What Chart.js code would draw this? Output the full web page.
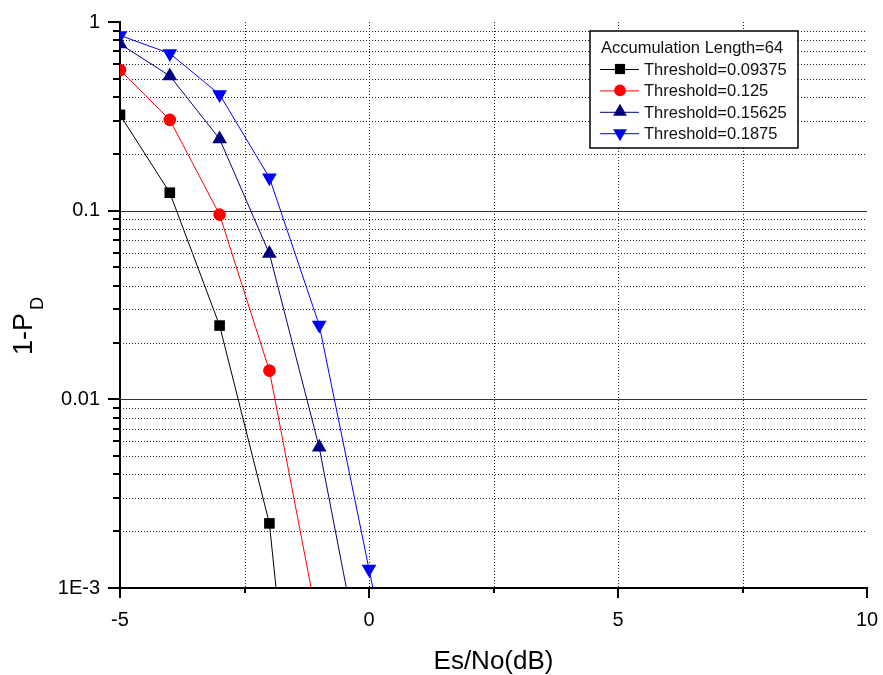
<!DOCTYPE html>
<html>
<head>
<meta charset="utf-8">
<script src="https://cdn.jsdelivr.net/npm/chart.js@4/dist/chart.umd.min.js"></script>
<style>
  body { margin: 0; background: #fff; }
  canvas { display: block; }
</style>
</head>
<body>
<canvas id="pdChart" width="883" height="675"></canvas>
<script>
// Es/No (dB) sample points
const esNo = [-5, -4, -3, -2, -1, 0, 1];

// 1-PD for each threshold (last points fall below 1E-3)
const thr09375 = [0.322, 0.1245, 0.0246, 0.0022, 0.000006];
const thr125 = [0.557, 0.303, 0.0953, 0.0142, 0.0006];
const thr15625 = [0.765, 0.518, 0.240, 0.0592, 0.00557, 0.00024];
const thr1875 = [0.849, 0.681, 0.413, 0.1495, 0.0248, 0.00126, 0.000065];

const seriesNames = [
  "Threshold=0.09375",
  "Threshold=0.125",
  "Threshold=0.15625",
  "Threshold=0.1875",
];
const legendTitle = "Accumulation Length=64";

// axis ticks
const xTicks = [-5, -2.5, 0, 2.5, 5, 7.5, 10];
const xTickLabels = ["-5", "", "0", "", "5", "", "10"];
const yMajorTicks = [0.001, 0.01, 0.1, 1];
const yTickLabels = ["1E-3", "0.01", "0.1", "1"];

const FONT = "'Liberation Sans', Arial, sans-serif";

// look & feel for each series
const styles = [
  { color: "#000000", point: "rect", radius: 7.5, rotation: 0 },
  { color: "#ff0000", point: "circle", radius: 6.3, rotation: 0 },
  { color: "#000080", point: "triangle", radius: 8.5, rotation: 0 },
  { color: "#0000ff", point: "triangle", radius: 8.5, rotation: 180 },
];

function toPoints(values) {
  return values.map((v, i) => ({ x: esNo[i], y: v }));
}

function isMajorY(v) {
  return yMajorTicks.findIndex((m) => Math.abs(v - m) / m < 1e-6);
}

// all log ticks 1..9 x 10^k
function buildYTicks() {
  const ticks = [];
  for (let k = -3; k <= 0; k++) {
    for (let m = 1; m <= 9; m++) {
      const v = m * Math.pow(10, k);
      if (v <= 1.0000001) ticks.push({ value: v });
    }
  }
  return ticks;
}

// draw a marker like the plot ones (legend only)
function drawMarker(ctx, style, x, y, r) {
  ctx.save();
  ctx.fillStyle = style.color;
  ctx.beginPath();
  if (style.point === "rect") {
    const s = r / Math.SQRT2;
    ctx.rect(x - s, y - s, 2 * s, 2 * s);
  } else if (style.point === "circle") {
    ctx.arc(x, y, r, 0, Math.PI * 2);
  } else {
    const rot = (style.rotation * Math.PI) / 180;
    for (let i = 0; i < 3; i++) {
      const a = rot + (i * 2 * Math.PI) / 3;
      const px = x + Math.sin(a) * r;
      const py = y - Math.cos(a) * r;
      if (i === 0) ctx.moveTo(px, py);
      else ctx.lineTo(px, py);
    }
    ctx.closePath();
  }
  ctx.fill();
  ctx.restore();
}

// grid lines drawn under the data
const gridPlugin = {
  id: "originGrid",
  beforeDatasetsDraw(chart) {
    const { ctx, chartArea: a } = chart;
    const xs = chart.scales.x;
    const ys = chart.scales.y;
    ctx.save();
    ctx.lineWidth = 1;

    // vertical dotted lines
    ctx.strokeStyle = "#222";
    ctx.setLineDash([1, 2]);
    xTicks.forEach((v) => {
      if (v === xs.min || v === xs.max) return;
      const px = Math.round(xs.getPixelForValue(v)) + 0.5;
      ctx.beginPath();
      ctx.moveTo(px, a.top);
      ctx.lineTo(px, a.bottom);
      ctx.stroke();
    });

    // horizontal lines
    ys.ticks.forEach((t) => {
      const v = t.value;
      if (v >= 0.9999 || v <= 0.0010001) return;
      const py = Math.round(ys.getPixelForValue(v)) + 0.5;
      if (isMajorY(v) >= 0) {
        ctx.setLineDash([]);
        ctx.strokeStyle = "#333";
      } else {
        ctx.setLineDash([1, 2]);
        ctx.strokeStyle = "#222";
      }
      ctx.beginPath();
      ctx.moveTo(a.left, py);
      ctx.lineTo(a.right, py);
      ctx.stroke();
    });
    ctx.restore();
  },
  afterDraw(chart) {
    const { ctx, chartArea: a } = chart;
    const xs = chart.scales.x;
    const ys = chart.scales.y;
    ctx.save();
    ctx.strokeStyle = "#000";
    ctx.lineWidth = 2;
    ctx.setLineDash([]);

    // y ticks, pointing out
    ys.ticks.forEach((t) => {
      const py = Math.round(ys.getPixelForValue(t.value));
      const len = isMajorY(t.value) >= 0 ? 12 : 7;
      ctx.beginPath();
      ctx.moveTo(a.left, py);
      ctx.lineTo(a.left - len, py);
      ctx.stroke();
    });

    // x ticks, pointing down
    xTicks.forEach((v, i) => {
      const px = Math.round(xs.getPixelForValue(v));
      const len = xTickLabels[i] ? 10 : 5;
      ctx.beginPath();
      ctx.moveTo(px, a.bottom);
      ctx.lineTo(px, a.bottom + len);
      ctx.stroke();
    });

    // axis titles
    ctx.fillStyle = "#000";
    ctx.font = "26px " + FONT;
    ctx.textAlign = "center";
    ctx.textBaseline = "alphabetic";
    ctx.fillText("Es/No(dB)", (a.left + a.right) / 2, 669);

    ctx.save();
    ctx.translate(32, 355);
    ctx.rotate(-Math.PI / 2);
    ctx.textAlign = "left";
    ctx.font = "27px " + FONT;
    ctx.fillText("1-P", 0, 0);
    const w = ctx.measureText("1-P").width;
    ctx.font = "18px " + FONT;
    ctx.fillText("D", w + 3, 11);
    ctx.restore();

    // legend box
    const bx = 590, by = 31, bw = 208, bh = 117;
    ctx.fillStyle = "#fff";
    ctx.fillRect(bx, by, bw, bh);
    ctx.lineWidth = 1.5;
    ctx.strokeStyle = "#000";
    ctx.strokeRect(bx, by, bw, bh);

    ctx.fillStyle = "#111";
    ctx.textAlign = "left";
    ctx.font = "16.5px " + FONT;
    ctx.fillText(legendTitle, 601, 53);

    seriesNames.forEach((name, i) => {
      const base = 75 + i * 21.4;
      const cy = base - 6;
      const st = styles[i];
      ctx.strokeStyle = st.color;
      ctx.lineWidth = 1;
      ctx.beginPath();
      ctx.moveTo(600, cy + 0.5);
      ctx.lineTo(639, cy + 0.5);
      ctx.stroke();
      const r = st.point === "rect" ? 7.2 : st.point === "circle" ? 5.8 : 8;
      drawMarker(ctx, st, 620, cy, r);
      ctx.fillStyle = "#111";
      ctx.fillText(name, 644, base);
    });
    ctx.restore();
  },
};

const allSeries = [thr09375, thr125, thr15625, thr1875];

const datasets = allSeries.map((vals, i) => ({
  label: seriesNames[i],
  data: toPoints(vals),
  borderColor: styles[i].color,
  backgroundColor: styles[i].color,
  borderWidth: 1,
  pointStyle: styles[i].point,
  pointRadius: styles[i].radius,
  pointRotation: styles[i].rotation,
  pointBorderWidth: 0,
  pointBackgroundColor: styles[i].color,
  tension: 0,
  fill: false,
}));

new Chart(document.getElementById("pdChart").getContext("2d"), {
  type: "line",
  data: { datasets: datasets },
  options: {
    responsive: false,
    animation: false,
    layout: { padding: { top: 22, right: 16, left: 0, bottom: 0 } },
    plugins: {
      legend: { display: false },
      tooltip: { enabled: false },
    },
    scales: {
      x: {
        type: "linear",
        min: -5,
        max: 10,
        afterFit: (s) => {
          s.height = 87;
          s.paddingLeft = 0;
          s.paddingRight = 0;
        },
        afterBuildTicks: (s) => {
          s.ticks = xTicks.map((v) => ({ value: v }));
        },
        grid: { display: false, drawTicks: false },
        border: { display: true, color: "#000", width: 2 },
        ticks: {
          autoSkip: false,
          maxRotation: 0,
          padding: 20,
          color: "#000",
          font: { family: FONT, size: 20 },
          callback: (v) => {
            const i = xTicks.indexOf(v);
            return i >= 0 ? xTickLabels[i] : "";
          },
        },
      },
      y: {
        type: "logarithmic",
        min: 0.001,
        max: 1,
        afterFit: (s) => {
          s.width = 120;
          s.paddingTop = 0;
          s.paddingBottom = 0;
        },
        afterBuildTicks: (s) => {
          s.ticks = buildYTicks();
        },
        grid: { display: false, drawTicks: false },
        border: { display: true, color: "#000", width: 2 },
        ticks: {
          autoSkip: false,
          padding: 20,
          color: "#000",
          font: { family: FONT, size: 20 },
          callback: (v) => {
            const i = isMajorY(v);
            return i >= 0 ? yTickLabels[i] : "";
          },
        },
      },
    },
  },
  plugins: [gridPlugin],
});
</script>
</body>
</html>
